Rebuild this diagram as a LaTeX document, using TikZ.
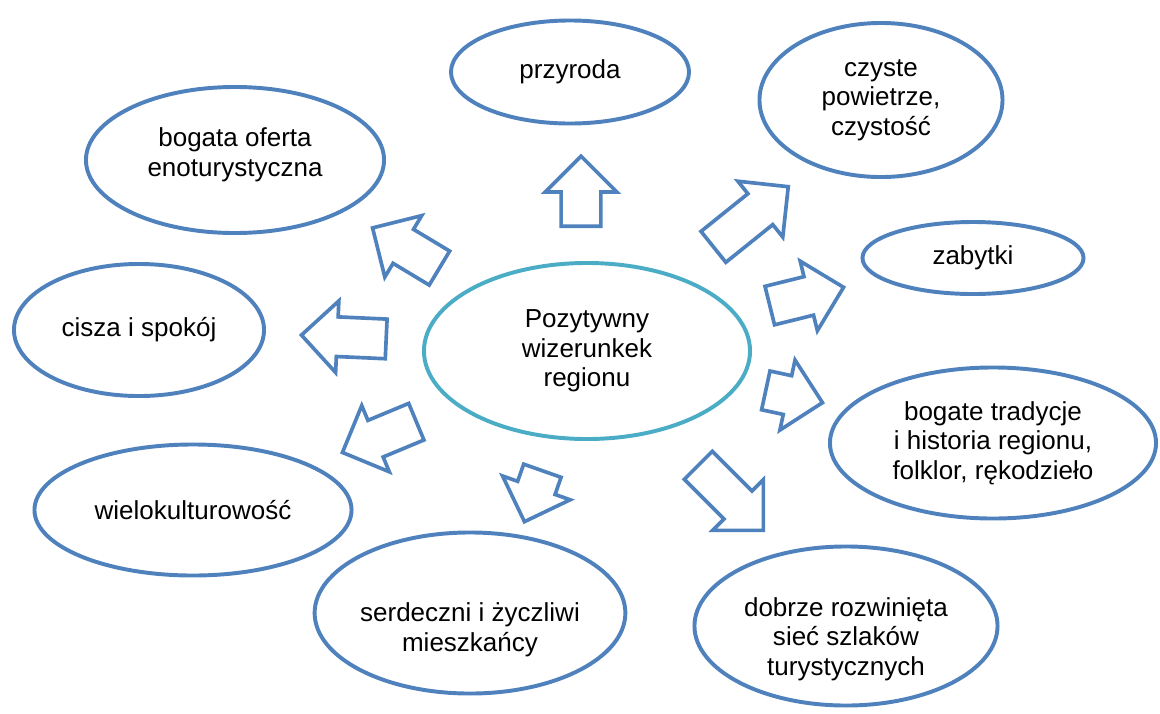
\documentclass[tikz,border=0pt]{standalone}
\usepackage{fontspec}
\setmainfont{Liberation Sans}
\usetikzlibrary{shapes.geometric, shapes.arrows}
\definecolor{wblue}{RGB}{79,129,189}
\definecolor{wteal}{RGB}{75,172,198}

\begin{document}
\begin{tikzpicture}[
        x=0.025cm, y=-0.025cm,
        topicbox/.style={ellipse, draw=wblue, line width=2.8pt, fill=white, inner sep=0pt, align=center, font=\fontsize{18.5}{21}\selectfont},
        corebox/.style={topicbox, draw=wteal},
        arrbox/.style={single arrow, anchor=tail, draw=wblue, line width=2.6pt, fill=white, inner xsep=0pt, inner ysep=0.45cm, single arrow head extend=0.4cm, single arrow tip angle=90},
    ]
        \useasboundingbox (0,0) rectangle (1160,713);

        % Central idea
        \node[corebox, minimum width=8.15cm, minimum height=4.4cm] (core) at (587,351) {Pozytywny\\wizerunkek\\regionu};

        % Surrounding features
        \node[topicbox, minimum width=5.95cm, minimum height=2.575cm] (prz) at (570,72) {przyroda};
        \node[topicbox, minimum width=6.075cm, minimum height=3.85cm] (czy) at (881,100) {czyste\\powietrze,\\czystość};
        \node[topicbox, minimum width=7.45cm, minimum height=3.65cm, text height=0.96cm] (eno) at (235,160) {bogata oferta\\enoturystyczna};
        \node[topicbox, minimum width=5.525cm, minimum height=1.8cm] (zab) at (973,258) {zabytki};
        \node[topicbox, minimum width=6.25cm, minimum height=3.3cm] (cis) at (139,330) {cisza i spokój};
        \node[topicbox, minimum width=8.15cm, minimum height=3.775cm] (tra) at (993,443) {bogate tradycje\\i historia regionu,\\folklor, rękodzieło};
        \node[topicbox, minimum width=7.925cm, minimum height=3.275cm] (wie) at (193,510) {wielokulturowość};
        \node[topicbox, minimum width=7.45cm, minimum height=4.025cm, text height=2.05cm] (ser) at (470,613) {serdeczni i życzliwi\\mieszkańcy};
        \node[topicbox, minimum width=7.575cm, minimum height=3.975cm, text height=2.6cm] (szl) at (846,626) {dobrze rozwinięta\\sieć szlaków\\turystycznych};

        % Block arrows (placed by their tails)
        \node[arrbox, rotate=90, minimum height=1.75cm] (aprz) at (581,228) {};
        \node[arrbox, rotate=38.8, minimum height=2.4cm] (aczy) at (712,248) {};
        \node[arrbox, rotate=13.9, minimum height=1.9cm] (azab) at (768,306) {};
        \node[arrbox, rotate=-12.2, minimum height=1.45cm] (atra) at (764,390) {};
        \node[arrbox, rotate=-45, minimum height=2.3cm] (aszl) at (697,464) {};
        \node[arrbox, rotate=-109.4, minimum height=1.35cm] (aser) at (543,469) {};
        \node[arrbox, rotate=-157.4, minimum height=2cm] (awie) at (418,421) {};
        \node[arrbox, rotate=177.4, minimum height=2.12cm] (acis) at (388,339) {};
        \node[arrbox, rotate=149, minimum height=1.95cm] (aeno) at (441,269) {};
    \end{tikzpicture}
\end{document}
